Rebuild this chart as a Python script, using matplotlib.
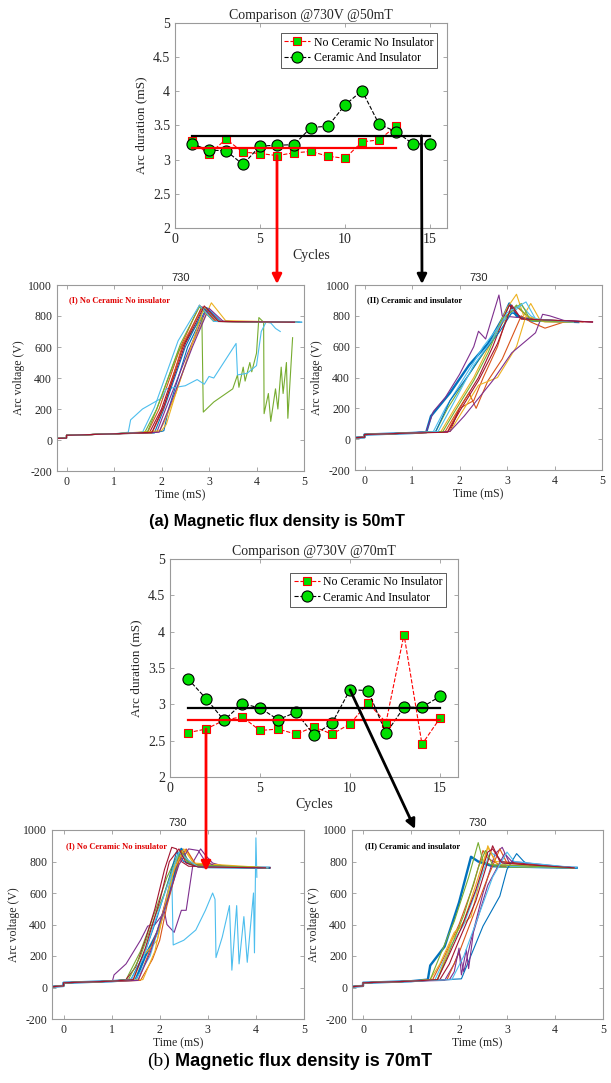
import numpy as np
import matplotlib.pyplot as plt
from matplotlib.patches import ConnectionPatch

W, H = 611, 1083

# arc duration per cycle, 50 mT
CYC_A_RED = list(range(1, 14))
DUR_A_RED = [3.27, 3.08, 3.30, 3.11, 3.09, 3.06, 3.10, 3.12, 3.05, 3.02, 3.26, 3.29, 3.49]
CYC_A_GREEN = list(range(1, 16))
DUR_A_GREEN = [3.23, 3.14, 3.13, 2.93, 3.20, 3.21, 3.22, 3.47, 3.49, 3.80, 4.01, 3.52, 3.41, 3.23, 3.23]

# arc duration per cycle, 70 mT
CYC_B = list(range(1, 16))
DUR_B_RED = [2.61, 2.66, 2.78, 2.83, 2.64, 2.66, 2.59, 2.69, 2.59, 2.73, 3.02, 2.75, 3.96, 2.45, 2.81]
DUR_B_GREEN = [3.35, 3.08, 2.78, 3.01, 2.95, 2.79, 2.89, 2.58, 2.74, 3.20, 3.19, 2.60, 2.96, 2.96, 3.11]

# common start of every voltage trace (before the contacts open)
BASE_T_A = [-0.2, 0.0, 0.0, 1.0]
BASE_V_A = [10, 12, 30, 40]
BASE_T_B = [-0.25, 0.0, 0.0, 1.0]
BASE_V_B = [5, 10, 30, 40]

# arc voltage traces (time mS, volts)
TRACES_A1 = [
    ([2.0, 2.05, 2.15, 2.55, 2.95, 3.25, 4.95], [55, 60, 200, 600, 855, 765, 760]),
    ([1.7, 1.95, 2.4, 2.8, 3.1, 4.8], [45, 200, 600, 870, 765, 760]),
    ([1.95, 2.05, 2.3, 2.65, 3.05, 3.35, 4.75], [55, 110, 300, 620, 885, 770, 760]),
    ([1.9, 2.1, 2.55, 2.95, 3.2, 4.7], [50, 210, 560, 845, 765, 760]),
    ([1.65, 1.9, 2.35, 2.85, 2.88, 3.1, 3.5, 3.6, 3.63, 3.72, 3.76, 3.86, 3.9, 4.0, 4.05,
      4.15, 4.16, 4.25, 4.3, 4.4, 4.45, 4.52, 4.56, 4.63, 4.66, 4.76],
     [50, 200, 570, 790, 180, 245, 330, 420, 340, 470, 380, 500, 440, 560, 790,
      760, 170, 300, 120, 330, 200, 470, 300, 500, 140, 660]),
    ([1.3, 1.35, 1.6, 2.0, 2.1, 2.5, 2.75, 2.9, 3.0, 3.1, 3.57, 3.6, 3.8, 4.0, 4.1, 4.2, 4.3, 4.4, 4.5],
     [50, 130, 200, 270, 330, 350, 390, 360, 410, 400, 623, 420, 430, 480, 700, 760, 755, 720, 700]),
    ([1.75, 2.0, 2.45, 2.85, 3.15, 4.85], [50, 200, 600, 860, 765, 760]),
    ([1.85, 2.05, 2.5, 2.9, 3.2, 4.9], [45, 200, 600, 850, 765, 760]),
    ([1.8, 2.05, 2.45, 2.85, 3.15, 4.8], [45, 210, 620, 850, 765, 760]),
    ([2.0, 2.1, 2.3, 2.9, 3.2, 4.85], [60, 100, 300, 860, 765, 760]),
    ([1.95, 2.15, 2.65, 3.0, 3.3, 4.8], [50, 200, 600, 850, 765, 760]),
    ([1.7, 1.9, 2.4, 2.8, 3.1, 4.7], [50, 200, 620, 860, 765, 760]),
    ([1.6, 1.85, 2.35, 2.8, 3.1, 4.95], [50, 210, 640, 870, 765, 760]),
    ([1.8, 2.05, 2.5, 2.9, 3.2, 4.8], [50, 220, 620, 865, 765, 760]),
]

TRACES_A2 = [
    ([1.3, 1.4, 1.8, 2.2, 2.6, 2.9, 3.05, 3.2, 3.5, 4.5], [45, 150, 300, 480, 620, 780, 880, 800, 770, 760]),
    ([1.75, 2.0, 2.3, 2.5, 2.8, 3.0, 3.2, 3.5, 4.6], [50, 200, 250, 400, 600, 800, 860, 780, 760]),
    ([1.6, 1.9, 2.3, 2.7, 3.0, 3.2, 3.35, 3.5, 3.7, 4.5], [45, 200, 400, 650, 850, 940, 800, 880, 770, 760]),
    ([1.3, 1.45, 1.7, 2.0, 2.3, 2.4, 2.55, 2.83, 2.9, 3.2, 3.5, 3.7, 4.5],
     [50, 180, 270, 420, 600, 700, 650, 935, 800, 790, 785, 765, 760]),
    ([1.5, 1.75, 2.2, 2.6, 3.0, 3.2, 3.45, 3.6, 4.4], [50, 200, 420, 600, 800, 870, 790, 765, 760]),
    ([1.45, 1.7, 2.2, 2.5, 2.9, 3.3, 3.5, 3.7, 4.4], [50, 200, 450, 600, 760, 870, 800, 765, 760]),
    ([1.8, 2.0, 2.4, 2.7, 2.95, 3.05, 3.3, 4.8], [50, 200, 400, 600, 800, 870, 780, 760]),
    ([1.5, 1.8, 2.2, 2.5, 2.85, 3.1, 3.4, 4.5], [50, 250, 420, 560, 700, 820, 780, 760]),
    ([1.7, 1.95, 2.2, 2.35, 2.6, 2.9, 3.3, 3.5, 3.8, 4.2], [50, 180, 300, 200, 380, 520, 800, 760, 720, 760]),
    ([1.8, 2.1, 2.4, 2.8, 3.2, 3.4, 3.6, 3.8, 4.4], [50, 200, 350, 400, 600, 800, 780, 760, 760]),
    ([1.8, 2.1, 2.7, 3.1, 3.6, 3.75, 3.9, 4.0, 4.2, 4.8], [50, 150, 380, 560, 690, 810, 800, 790, 770, 760]),
    ([1.65, 1.9, 2.3, 2.6, 2.9, 3.3, 3.5, 4.4], [50, 180, 380, 560, 780, 880, 770, 760]),
    ([1.55, 1.85, 2.3, 2.7, 3.0, 3.4, 3.6, 4.4], [50, 220, 480, 650, 820, 890, 780, 760]),
    ([1.75, 2.0, 2.4, 2.8, 3.0, 3.1, 3.3, 4.8], [45, 180, 380, 620, 780, 870, 780, 760]),
]

TRACES_B1 = [
    ([1.5, 1.7, 1.95, 2.2, 2.45, 2.6, 2.9, 4.28], [50, 200, 350, 600, 880, 790, 765, 760]),
    ([1.55, 1.75, 2.0, 2.2, 2.45, 2.6, 2.9, 4.25], [45, 200, 400, 650, 870, 800, 765, 760]),
    ([1.45, 1.65, 1.95, 2.1, 2.35, 2.55, 2.75, 4.2], [50, 200, 300, 500, 820, 870, 780, 760]),
    ([1.02, 1.05, 1.3, 1.5, 1.6, 1.75, 1.9, 2.1, 2.15, 2.3, 2.45, 2.55, 2.7, 2.85, 2.95, 3.1, 3.4, 4.2],
     [45, 80, 150, 250, 300, 390, 400, 480, 400, 350, 490, 490, 800, 880, 840, 790, 765, 760]),
    ([1.3, 1.6, 1.9, 2.15, 2.4, 2.6, 2.9, 4.2], [50, 230, 480, 700, 860, 790, 765, 760]),
    ([1.5, 1.8, 2.1, 2.25, 2.28, 2.5, 2.75, 2.95, 3.1, 3.15, 3.17, 3.3, 3.45, 3.5, 3.6, 3.65,
      3.75, 3.82, 3.95, 3.97, 4.0, 4.02],
     [50, 200, 500, 720, 270, 300, 365, 490, 600, 560, 190, 320, 520, 110, 520, 150,
      450, 160, 600, 220, 950, 700]),
    ([1.3, 1.5, 1.7, 1.9, 2.1, 2.25, 2.35, 2.45, 2.6, 4.3], [50, 130, 300, 500, 750, 890, 880, 800, 770, 760]),
    ([1.4, 1.7, 1.95, 2.2, 2.35, 2.5, 2.8, 4.28], [50, 230, 450, 700, 860, 800, 765, 760]),
    ([1.6, 1.85, 2.0, 2.15, 2.4, 2.55, 2.75, 4.2], [45, 180, 300, 520, 800, 880, 780, 760]),
    ([1.65, 1.9, 2.05, 2.3, 2.5, 2.7, 4.25], [50, 230, 450, 750, 880, 790, 760]),
    ([1.55, 1.8, 2.1, 2.4, 2.6, 2.8, 2.95, 3.2, 4.2], [45, 220, 500, 780, 880, 870, 800, 765, 760]),
    ([1.35, 1.6, 1.9, 2.1, 2.3, 2.45, 2.65, 4.2], [50, 200, 450, 600, 780, 860, 780, 760]),
    ([1.4, 1.65, 1.9, 2.2, 2.4, 2.55, 2.8, 4.25], [50, 180, 420, 680, 860, 820, 765, 760]),
    ([1.45, 1.7, 2.0, 2.2, 2.4, 2.55, 2.8, 4.2], [50, 250, 550, 800, 880, 790, 765, 760]),
]

TRACES_B2 = [
    ([1.35, 1.4, 1.7, 2.0, 2.25, 2.4, 2.7, 4.45], [50, 140, 260, 540, 830, 800, 770, 760]),
    ([1.45, 1.7, 2.0, 2.3, 2.5, 2.6, 2.9, 4.4], [50, 200, 400, 650, 870, 820, 770, 760]),
    ([1.4, 1.6, 1.9, 2.25, 2.45, 2.6, 2.75, 4.4], [50, 150, 350, 450, 700, 900, 800, 760]),
    ([1.7, 1.9, 2.0, 2.1, 2.25, 2.5, 2.75, 2.9, 3.05, 4.4], [45, 150, 230, 100, 300, 600, 850, 890, 790, 760]),
    ([1.4, 1.6, 1.9, 2.2, 2.4, 2.5, 2.8, 4.4], [50, 200, 420, 700, 920, 800, 765, 760]),
    ([1.5, 1.8, 2.1, 2.4, 2.65, 2.8, 3.0, 4.4], [50, 250, 400, 650, 860, 830, 770, 760]),
    ([1.6, 1.8, 2.0, 2.35, 2.6, 2.7, 2.85, 4.4], [50, 150, 300, 550, 800, 900, 800, 760]),
    ([2.05, 2.5, 2.85, 3.0, 3.2, 3.35, 3.5, 4.45], [55, 390, 580, 750, 850, 800, 770, 760]),
    ([1.75, 2.0, 2.3, 2.6, 2.85, 3.0, 4.4], [50, 220, 460, 700, 880, 790, 760]),
    ([1.55, 1.85, 2.1, 2.4, 2.6, 2.8, 4.4], [50, 300, 420, 700, 890, 780, 760]),
    ([1.8, 1.9, 2.0, 2.05, 2.15, 2.2, 2.3, 2.6, 2.95, 3.1, 4.4],
     [50, 100, 250, 80, 240, 120, 350, 650, 850, 800, 760]),
    ([1.55, 1.8, 2.1, 2.4, 2.55, 2.7, 4.4], [50, 230, 460, 760, 870, 780, 760]),
    ([1.85, 2.1, 2.4, 2.7, 3.0, 3.15, 4.45], [50, 200, 450, 700, 860, 800, 760]),
    ([1.55, 1.75, 2.05, 2.35, 2.6, 2.7, 2.9, 4.4], [50, 180, 380, 620, 860, 880, 790, 760]),
]

MATLAB_COLORS = ['#0072BD', '#D95319', '#EDB120', '#7E2F8E', '#77AC30', '#4DBEEE', '#A2142F']
SERIF = 'Liberation Serif'

plt.rcParams['axes.unicode_minus'] = False


def box(left, top, right, bottom):
    """Axes rectangle from pixel edges (origin top-left)."""
    return [left / W, 1 - bottom / H, (right - left) / W, (bottom - top) / H]


def fig_pt(x, y):
    return (x / W, 1 - y / H)


def style_axes(ax, size):
    for s in ax.spines.values():
        s.set_color('#9a9a9a')
        s.set_linewidth(0.8)
    ax.tick_params(direction='in', top=True, right=True, length=3, width=0.6,
                   colors='#9a9a9a', labelcolor='#262626', labelsize=size)
    for lab in ax.get_xticklabels() + ax.get_yticklabels():
        lab.set_family(SERIF)


def plot_comparison(ax, title, cyc_r, dur_r, cyc_g, dur_g, legend_anchor):
    ax.plot(cyc_r, dur_r, color='red', ls='--', lw=0.8, marker='s', ms=5.5,
            mfc='#00e000', mec='red', mew=0.8, label='No Ceramic No Insulator')
    ax.plot(cyc_g, dur_g, color='black', ls='--', lw=0.8, marker='o', ms=8,
            mfc='#00e000', mec='black', mew=0.8, label='Ceramic And Insulator')
    ax.plot([cyc_g[0], cyc_g[-1]], [np.mean(dur_g)] * 2, color='black', lw=1.6)
    ax.plot([cyc_r[0], cyc_r[-1]], [np.mean(dur_r)] * 2, color='red', lw=1.6)
    ax.set_xlim(0, 16)
    ax.set_ylim(2, 5)
    ax.set_xticks([0, 5, 10, 15])
    ax.set_yticks([2, 2.5, 3, 3.5, 4, 4.5, 5])
    ax.set_yticklabels(['2', '2.5', '3', '3.5', '4', '4.5', '5'])
    ax.set_title(title, family=SERIF, fontsize=10, color='#262626', pad=3)
    ax.set_xlabel('Cycles', family=SERIF, fontsize=10, color='#262626', labelpad=2)
    ax.set_ylabel('Arc duration (mS)', family=SERIF, fontsize=9.5, color='#262626')
    leg = ax.legend(loc='upper right', bbox_to_anchor=legend_anchor, fancybox=False,
                    framealpha=1, edgecolor='#404040', prop={'family': SERIF, 'size': 8.5},
                    handlelength=2.2, borderpad=0.3, labelspacing=0.3, handletextpad=0.3)
    leg.get_frame().set_linewidth(0.6)
    style_axes(ax, 10)


def plot_wave(ax, traces, base_t, base_v, xlim, label, label_color, thick_first):
    for i, (t, v) in enumerate(traces):
        lw = 1.7 if (i == 0 and thick_first) else 0.8
        ax.plot(base_t + t, base_v + v, color=MATLAB_COLORS[i % 7], lw=lw)
    ax.set_xlim(*xlim)
    ax.set_ylim(-200, 1000)
    ax.set_xticks(range(0, 6))
    ax.set_yticks(range(-200, 1001, 200))
    ax.set_title('730', fontsize=8, family='Liberation Sans', color='#262626', pad=3)
    ax.set_xlabel('Time (mS)', family=SERIF, fontsize=8.5, color='#262626', labelpad=1)
    ax.set_ylabel('Arc voltage (V)', family=SERIF, fontsize=8.5, color='#262626', labelpad=2)
    ax.text(0.05, 900, label, color=label_color, fontsize=6, fontweight='bold',
            family=SERIF, va='center')
    style_axes(ax, 8.5)


def arrow(fig, ax, start, end_px, color):
    con = ConnectionPatch(xyA=start, coordsA=ax.transData, xyB=fig_pt(*end_px),
                          coordsB=fig.transFigure, arrowstyle='-|>', color=color,
                          lw=2, mutation_scale=14, shrinkA=0, shrinkB=0, zorder=10)
    fig.add_artist(con)


def main():
    fig = plt.figure(figsize=(W / 100, H / 100), dpi=100)

    ax_a = fig.add_axes(box(175, 23, 447, 228))
    plot_comparison(ax_a, 'Comparison @730V @50mT', CYC_A_RED, DUR_A_RED,
                    CYC_A_GREEN, DUR_A_GREEN, (0.985, 0.98))

    ax_a1 = fig.add_axes(box(57, 285, 304, 471))
    plot_wave(ax_a1, TRACES_A1, BASE_T_A, BASE_V_A, (-0.2, 5),
              '(I) No Ceramic No insulator', '#e00000', False)
    ax_a2 = fig.add_axes(box(355, 285, 602, 470))
    plot_wave(ax_a2, TRACES_A2, BASE_T_A, BASE_V_A, (-0.2, 5),
              '(II) Ceramic and insulator', 'black', True)

    ax_b = fig.add_axes(box(170, 559, 458, 777))
    plot_comparison(ax_b, 'Comparison @730V @70mT', CYC_B, DUR_B_RED,
                    CYC_B, DUR_B_GREEN, (0.98, 0.965))

    ax_b1 = fig.add_axes(box(52, 830, 304, 1019))
    plot_wave(ax_b1, TRACES_B1, BASE_T_B, BASE_V_B, (-0.24, 5),
              '(I) No Ceramic No insulator', '#e00000', True)
    ax_b2 = fig.add_axes(box(352, 830, 603, 1019))
    plot_wave(ax_b2, TRACES_B2, BASE_T_B, BASE_V_B, (-0.23, 5),
              '(II) Ceramic and insulator', 'black', True)

    # arrows from the comparison plots down to the matching waveforms
    arrow(fig, ax_a, (6, DUR_A_RED[5]), (277, 284), 'red')
    arrow(fig, ax_a, (14.5, np.mean(DUR_A_GREEN)), (422, 284), 'black')
    arrow(fig, ax_b, (2, DUR_B_RED[1]), (206, 871), 'red')
    arrow(fig, ax_b, (10, DUR_B_GREEN[9]), (415, 829), 'black')

    sans_bold = 'Liberation Sans'
    fig.text(*fig_pt(277, 521), '(a) Magnetic flux density is 50mT', ha='center', va='center',
             fontsize=11.8, fontweight='bold', family=sans_bold)
    fig.text(*fig_pt(170, 1061), '(b)', ha='right', va='center', fontsize=14, family=SERIF)
    fig.text(*fig_pt(175, 1061), 'Magnetic flux density is 70mT', ha='left', va='center',
             fontsize=13.1, fontweight='bold', family=sans_bold)

    fig.savefig('out.png', dpi=100)


if __name__ == "__main__":
    main()
